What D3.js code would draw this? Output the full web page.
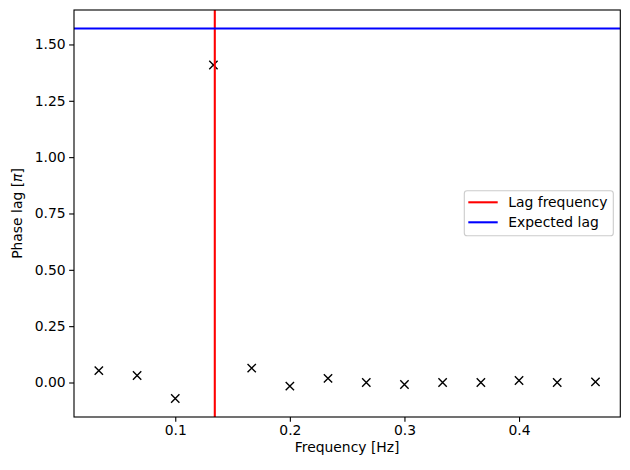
<!DOCTYPE html>
<html>
<head>
<meta charset="utf-8">
<script src="https://cdn.jsdelivr.net/npm/d3@7"></script>
<style>
  body { margin: 0; background: #fff; }
  svg { display: block; }
  text { font-family: "DejaVu Sans", sans-serif; fill: #000; }
</style>
</head>
<body>
<div id="chart"></div>
<script>
// Data
var frequencies = [0.0333, 0.0667, 0.1, 0.1333, 0.1667, 0.2, 0.2333, 0.2667, 0.3, 0.3333, 0.3667, 0.4, 0.4333, 0.4667];
var phaseLags   = [0.053, 0.031, -0.071, 1.409, 0.064, -0.016, 0.018, 0.000, -0.009, 0.000, 0.000, 0.009, 0.000, 0.003];
var lagFrequency = 0.1345;
var expectedLag = 1.5708;  // pi/2, in units of pi
var xTicks = [0.1, 0.2, 0.3, 0.4];
var yTicks = [0.0, 0.25, 0.5, 0.75, 1.0, 1.25, 1.5];
var legendLabels = ["Lag frequency", "Expected lag"];

function renderChart(el) {
    var width = 630, height = 470;
    var margin = {top: 10, right: 9.7, bottom: 53, left: 74};
    var fontSize = 13.9;

    var svg = d3.select("#" + el)
        .append("svg")
        .attr("width", width)
        .attr("height", height);

    // matplotlib style 5% margins around data
    var xmin = d3.min(frequencies), xmax = d3.max(frequencies);
    var xpad = (xmax - xmin) * 0.05;
    var ymin = d3.min(phaseLags.concat([expectedLag])), ymax = d3.max(phaseLags.concat([expectedLag]));
    var ypad = (ymax - ymin) * 0.05;

    var x = d3.scaleLinear()
        .domain([xmin - xpad, xmax + xpad])
        .range([margin.left, width - margin.right]);

    var y = d3.scaleLinear()
        .domain([ymin - ypad, ymax + ypad])
        .range([height - margin.bottom, margin.top]);

    svg.append("clipPath").attr("id", "clip")
        .append("rect")
        .attr("x", margin.left).attr("y", margin.top)
        .attr("width", width - margin.left - margin.right)
        .attr("height", height - margin.top - margin.bottom);

    var plot = svg.append("g").attr("clip-path", "url(#clip)");

    // scatter markers ('x')
    var s = 4.17;
    plot.selectAll("path.pt")
        .data(frequencies)
        .enter()
        .append("path")
        .attr("class", "pt")
        .attr("d", function(d, i) {
            var cx = x(d), cy = y(phaseLags[i]);
            return "M" + (cx - s) + "," + (cy - s) + "L" + (cx + s) + "," + (cy + s) +
                   "M" + (cx - s) + "," + (cy + s) + "L" + (cx + s) + "," + (cy - s);
        })
        .attr("stroke", "black")
        .attr("stroke-width", 1.39)
        .attr("fill", "none");

    // vertical lag frequency line
    plot.append("line")
        .attr("x1", x(lagFrequency)).attr("x2", x(lagFrequency))
        .attr("y1", margin.top).attr("y2", height - margin.bottom)
        .attr("stroke", "red")
        .attr("stroke-width", 2.08);

    // horizontal expected lag line
    plot.append("line")
        .attr("x1", margin.left).attr("x2", width - margin.right)
        .attr("y1", y(expectedLag)).attr("y2", y(expectedLag))
        .attr("stroke", "blue")
        .attr("stroke-width", 2.08);

    // axes
    var xAxis = svg.append("g")
        .attr("transform", "translate(0," + (height - margin.bottom) + ")")
        .call(d3.axisBottom(x).tickValues(xTicks).tickFormat(d3.format(".1f")).tickSizeOuter(0).tickSize(4.86).tickPadding(3.5));

    var yAxis = svg.append("g")
        .attr("transform", "translate(" + margin.left + ",0)")
        .call(d3.axisLeft(y).tickValues(yTicks).tickFormat(d3.format(".2f")).tickSizeOuter(0).tickSize(4.86).tickPadding(3.5));

    [xAxis, yAxis].forEach(function(a) {
        a.select(".domain").remove();
        a.selectAll("line").attr("stroke", "black").attr("stroke-width", 1.11);
        a.selectAll("text")
            .style("font-family", "DejaVu Sans")
            .style("font-size", fontSize + "px")
            .attr("fill", "black");
    });

    // axes frame
    svg.append("rect")
        .attr("x", margin.left).attr("y", margin.top)
        .attr("width", width - margin.left - margin.right)
        .attr("height", height - margin.top - margin.bottom)
        .attr("fill", "none")
        .attr("stroke", "black")
        .attr("stroke-width", 1.11);

    // axis labels
    svg.append("text")
        .attr("x", (margin.left + width - margin.right) / 2)
        .attr("y", 452)
        .attr("text-anchor", "middle")
        .style("font-size", fontSize + "px")
        .text("Frequency [Hz]");

    svg.append("text")
        .attr("transform", "translate(22," + ((margin.top + height - margin.bottom) / 2) + ") rotate(-90)")
        .attr("text-anchor", "middle")
        .style("font-size", fontSize + "px")
        .html("Phase lag [<tspan font-style='italic'>π</tspan>]");

    // legend
    var legend = svg.append("g");
    legend.append("rect")
        .attr("x", 464.3).attr("y", 190.7)
        .attr("width", 149).attr("height", 45)
        .attr("rx", 2.8)
        .attr("fill", "white").attr("fill-opacity", 0.8)
        .attr("stroke", "#cccccc").attr("stroke-width", 1.11);

    var legendColors = ["red", "blue"];
    var items = legend.selectAll("g.item")
        .data(legendLabels)
        .enter()
        .append("g")
        .attr("class", "item")
        .attr("transform", function(d, i) { return "translate(0," + (202.3 + i * 20) + ")"; });

    items.append("line")
        .attr("x1", 468.3).attr("x2", 497.7)
        .attr("stroke", function(d, i) { return legendColors[i]; })
        .attr("stroke-width", 2.08);

    items.append("text")
        .attr("x", 508.3)
        .attr("dy", "0.36em")
        .style("font-size", fontSize + "px")
        .text(function(d) { return d; });
}

renderChart("chart");
</script>
</body>
</html>
